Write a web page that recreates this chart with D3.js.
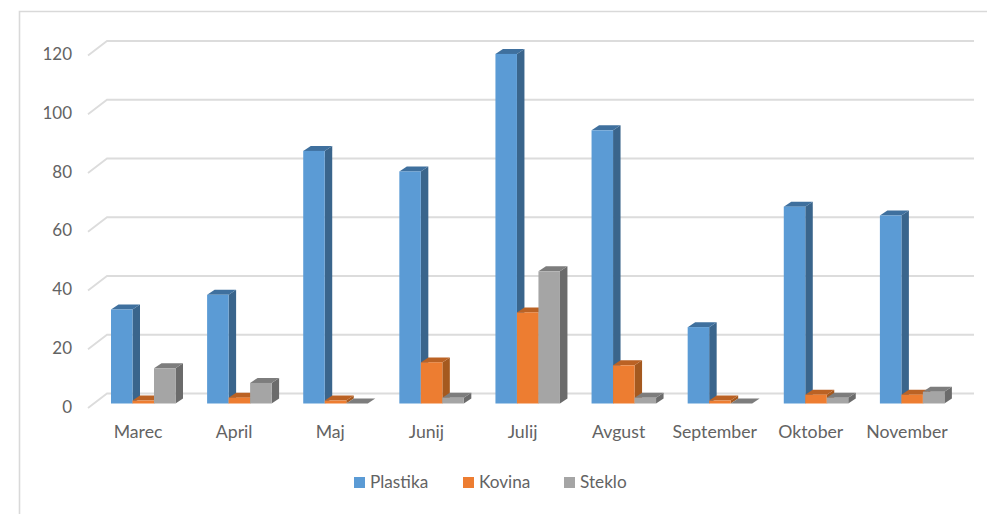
<!DOCTYPE html>
<html><head><meta charset="utf-8">
<style>html,body{margin:0;padding:0;background:#fff}svg{display:block}text{font-family:Lato,"Open Sans",sans-serif;fill:#636363}</style>
<script src="https://cdn.jsdelivr.net/npm/d3@7/dist/d3.min.js"></script>
</head><body><svg id="c" width="987" height="514"></svg>
<script>
const months=["Marec","April","Maj","Junij","Julij","Avgust","September","Oktober","November"];
const seriesNames=["Plastika","Kovina","Steklo"];
const plastika=[32,37,86,79,119,93,26,67,64];
const kovina=[1,2,1,14,31,13,1,3,3];
const steklo=[12,7,0,2,45,2,0,2,4];
const yTicks=[0,20,40,60,80,100,120];
const seriesValues=[plastika,kovina,steklo];
const fronts=["#5b9bd5","#ed7d31","#a5a5a5"];
const sides=["#3a658c","#a5591f","#6b6b6b"];
const tops=["#3f709e","#bb6224","#7d7d7d"];

const svg=d3.select("#c");
const x=d3.scaleBand().domain(months).range([95,960]).paddingInner(0).paddingOuter(0);
const series=d3.scaleBand().domain(seriesNames).range([16,80.5]);
const y=d3.scaleLinear().domain([0,120]).range([403.5,51]);
const dx=7.5,dy=5;    // bar depth
const gx=19,gy=14.5;  // floor depth
const backY=v=>y(v)-10;

// frame
svg.append("path").attr("d","M19.5,514V11.5H987").attr("fill","none").attr("stroke","#d9d9d9").attr("stroke-width",1.6);

// gridlines
svg.append("g").selectAll("path").data(yTicks).join("path")
 .attr("fill","none").attr("stroke","#dcdcdc").attr("stroke-width",1.8)
 .attr("d",v=>`M88,${backY(v)+gy}L107,${backY(v)}H974`);

// y labels
svg.append("g").selectAll("text").data(yTicks).join("text")
 .attr("x",72).attr("y",v=>y(v)+9).attr("text-anchor","end").attr("font-size",17).text(d=>d);

// bars
seriesValues.forEach((vals,si)=>{
  const g=svg.append("g");
  vals.forEach((v,mi)=>{
    const l=x(months[mi])+series(seriesNames[si]),w=series.bandwidth(),t=y(v),b=y(0);
    g.append("path").attr("fill",sides[si]).attr("d",`M${l+w},${t}l${dx},${-dy}V${b-dy}l${-dx},${dy}Z`);
    g.append("path").attr("fill",tops[si]).attr("d",`M${l},${t}l${dx},${-dy}h${w}l${-dx},${dy}Z`);
    if(v>0) g.append("rect").attr("x",l).attr("y",t).attr("width",w).attr("height",b-t).attr("fill",fronts[si]);
  });
});

// x labels
svg.append("g").selectAll("text").data(months).join("text")
 .attr("x",m=>x(m)+x.bandwidth()/2-5).attr("y",438).attr("text-anchor","middle").attr("font-size",17.7).text(d=>d);

// legend
const legendX=d3.scaleOrdinal().domain(seriesNames).range([354,463,564]);
const lg=svg.append("g").selectAll("g").data(seriesNames).join("g").attr("transform",d=>`translate(${legendX(d)},477)`);
lg.append("rect").attr("width",11).attr("height",11).attr("fill",(d,i)=>fronts[i]);
lg.append("text").attr("x",16).attr("y",11).attr("font-size",17.2).text(d=>d);
</script></body></html>
